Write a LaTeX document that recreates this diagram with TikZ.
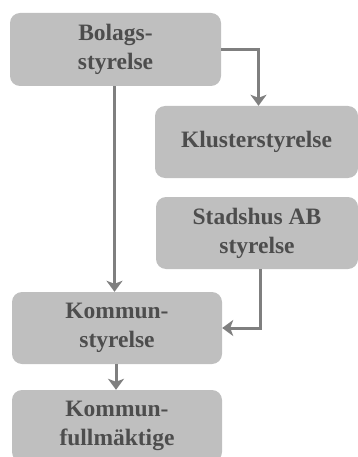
\documentclass[tikz,border=0pt]{standalone}
\usepackage{fontspec}
\setmainfont{Liberation Serif}
\usetikzlibrary{arrows.meta}
\definecolor{boxfill}{HTML}{BFBFBF}
\definecolor{linegray}{HTML}{7F7F7F}
\definecolor{txt}{HTML}{4D4D4D}
\tikzset{
  orgbox/.style={rectangle, rounded corners=10pt, fill=boxfill, draw=none,
    text=txt, font=\fontsize{23.5}{29}\selectfont\bfseries, align=center,
    inner sep=0pt},
  conn/.style={draw=linegray, line width=3pt,
    -{Stealth[length=11pt,width=16pt,inset=3pt]}}
}
\begin{document}
\begin{tikzpicture}[x=1pt,y=-1pt]
\useasboundingbox (0,0) rectangle (358,457);
\clip (0,0) rectangle (358,457);
\node[orgbox, minimum width=211pt, minimum height=73pt] (bol) at (115.5,49.5) {Bolags-\\styrelse};
\node[orgbox, minimum width=203pt, minimum height=72pt] (klu) at (256.5,142) {Klusterstyrelse};
\node[orgbox, minimum width=202pt, minimum height=72pt] (sta) at (257,233) {Stadshus AB\\styrelse};
\node[orgbox, minimum width=210pt, minimum height=72pt] (ks) at (117,328) {Kommun-\\styrelse};
\node[orgbox, minimum width=210pt, minimum height=72pt] (kf) at (117,426) {Kommun-\\fullmäktige};
\draw[conn] (bol.east) -| ([xshift=2pt]klu.north);
\draw[conn] ([xshift=-1pt]bol.south) -- ([xshift=-1pt]bol.south |- ks.north);
\draw[conn] ([xshift=3pt]sta.south) |- (ks.east);
\draw[conn] ([xshift=-1pt]ks.south) -- ([xshift=-1pt]ks.south |- kf.north);
\end{tikzpicture}
\end{document}
